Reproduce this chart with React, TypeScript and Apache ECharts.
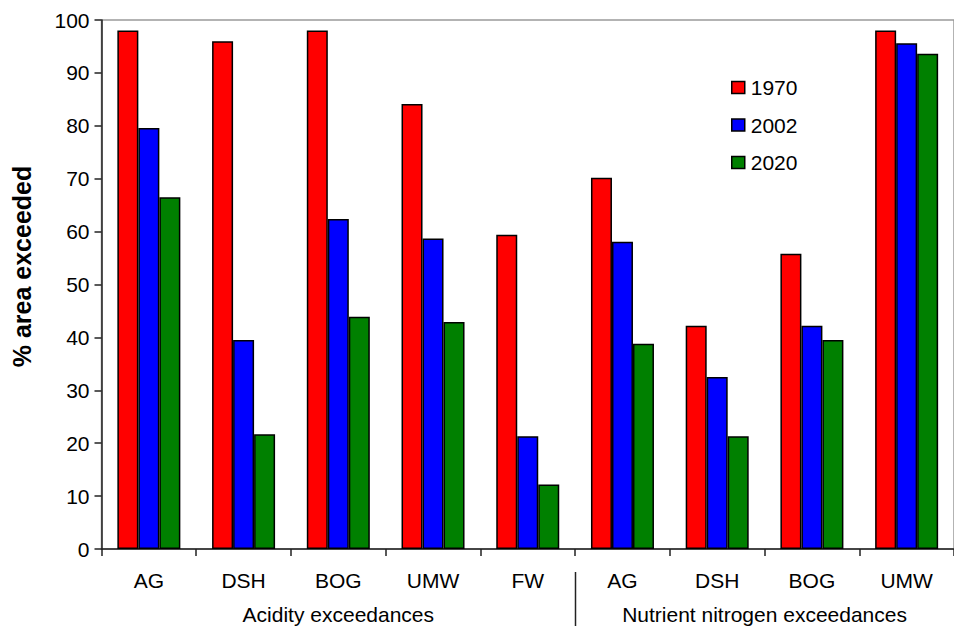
import React, { useEffect, useRef } from "react";
import * as echarts from "echarts";

const categories = ["AG", "DSH", "BOG", "UMW", "FW", "AG", "DSH", "BOG", "UMW"];
const seriesNames = ["1970", "2002", "2020"];
const v1970 = [98, 96, 98, 84.1, 59.4, 70.2, 42.2, 55.8, 98];
const v2002 = [79.6, 39.5, 62.4, 58.7, 21.3, 58.1, 32.5, 42.2, 95.6];
const v2020 = [66.5, 21.7, 43.9, 42.9, 12.2, 38.8, 21.3, 39.5, 93.6];
const colors = ["#FF0000", "#0000FF", "#008000"];
const groups = [
  { name: "Acidity exceedances", from: 0, to: 4 },
  { name: "Nutrient nitrogen exceedances", from: 5, to: 8 },
];
const yTitle = "% area exceeded";

const FONT = "'Liberation Sans', Arial, sans-serif";
const FS = 21;

export default function App() {
  const ref = useRef<HTMLDivElement>(null);
  useEffect(() => {
    if (!ref.current) return;
    const chart = echarts.init(ref.current, null, { renderer: "svg" });
    const values = [v1970, v2002, v2020];
    chart.setOption({
      animation: false,
      backgroundColor: "#fff",
      textStyle: { fontFamily: FONT },
      grid: {
        left: 101.5,
        top: 20,
        width: 859,
        height: 529,
        show: true,
        borderColor: "#9a9a9a",
        borderWidth: 1.5,
        containLabel: false,
      },
      legend: {
        orient: "vertical",
        left: 726,
        top: 72,
        itemWidth: 13,
        itemHeight: 12,
        itemGap: 16.5,
        icon: "rect",
        itemStyle: { borderColor: "#000", borderWidth: 1.5 },
        textStyle: { fontSize: FS, color: "#000", fontFamily: FONT, lineHeight: 21, padding: [0, 0, 0, 1] },
        data: seriesNames,
      },
      xAxis: {
        type: "category",
        data: categories,
        axisLine: { lineStyle: { color: "#222", width: 1.5 } },
        axisTick: { show: true, interval: 0, length: 7, lineStyle: { color: "#222", width: 1.5 } },
        axisLabel: { interval: 0, fontSize: FS, color: "#000", margin: 21, fontFamily: FONT },
        splitLine: { show: false },
      },
      yAxis: {
        type: "value",
        min: 0,
        max: 100,
        interval: 10,
        axisLine: { show: true, lineStyle: { color: "#222", width: 1.5 } },
        axisTick: { show: true, length: 7, lineStyle: { color: "#222", width: 1.5 } },
        axisLabel: { fontSize: FS, color: "#000", margin: 12, fontFamily: FONT },
        splitLine: { show: false },
      },
      series: seriesNames.map((name, i) => ({
        name,
        type: "bar",
        data: values[i],
        barWidth: 21,
        barGap: "0%",
        itemStyle: { color: colors[i], borderColor: "#000", borderWidth: 1.5 },
      })),
    });

    const px = (idx: number) => chart.convertToPixel({ xAxisIndex: 0 }, idx) as number;
    const graphics: any[] = groups.map((g) => ({
      type: "text",
      x: (px(g.from) + px(g.to)) / 2,
      y: 614,
      style: {
        text: g.name,
        fontSize: FS,
        fontFamily: FONT,
        fill: "#000",
        textAlign: "center",
        textVerticalAlign: "middle",
      },
    }));
    for (let k = 0; k < groups.length - 1; k++) {
      const sx = Math.round((px(groups[k].to) + px(groups[k + 1].from)) / 2) + 0.5;
      graphics.push({
        type: "line",
        shape: { x1: sx, y1: 572, x2: sx, y2: 626 },
        style: { stroke: "#222", lineWidth: 1.5 },
      });
    }
    graphics.push({
      type: "text",
      x: 21.5,
      y: 266.5,
      rotation: Math.PI / 2,
      style: {
        text: yTitle,
        fontSize: 25,
        fontWeight: "bold",
        fontFamily: FONT,
        fill: "#000",
        textAlign: "center",
        textVerticalAlign: "middle",
      },
    });
    chart.setOption({ graphic: graphics });

    return () => chart.dispose();
  }, []);
  return (
    <div
      ref={ref}
      style={{ position: "fixed", left: 0, top: 0, width: 954, height: 633 }}
    />
  );
}
